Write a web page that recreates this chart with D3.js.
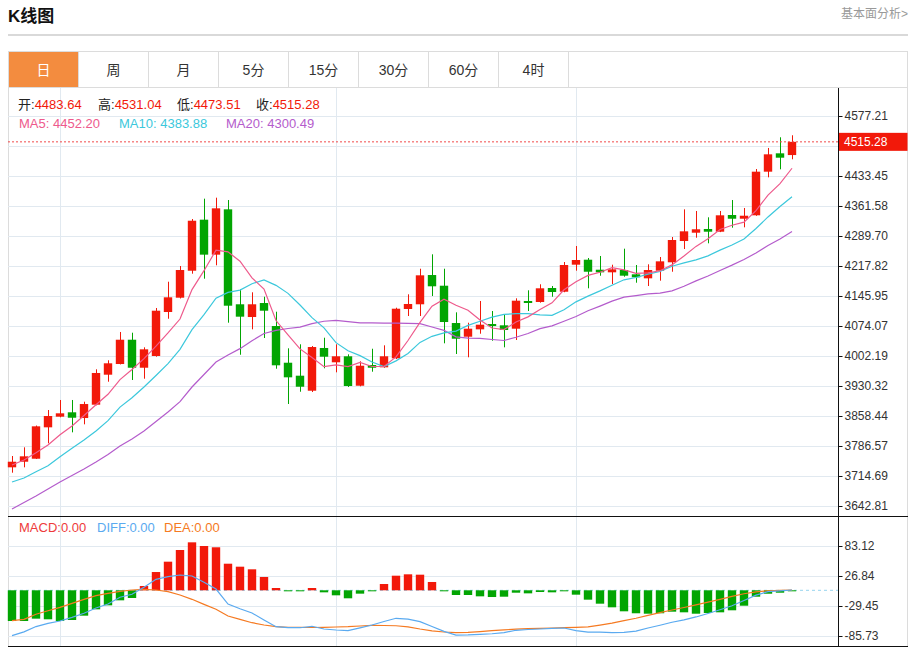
<!DOCTYPE html>
<html>
<head>
<meta charset="utf-8">
<script src="https://cdn.jsdelivr.net/npm/d3@7"></script>
<style>
body{margin:0;background:#fff}
svg{display:block;font-family:Arial,"Liberation Sans","Noto Sans CJK SC",sans-serif}
</style>
</head>
<body>
<svg width="916" height="648"></svg>
<script>
// tabs across the top
const tabs = ['日', '周', '月', '5分', '15分', '30分', '60分', '4时'];

// daily candles
const open  = [3735.5,3748.9,3756.1,3831.3,3856.8,3867.3,3853.6,3885.5,3957.4,3983.0,4041.2,3974.1,4002.2,4107.6,4141.9,4206.5,4328.8,4245.0,4353.6,4126.1,4095.6,4129.1,4074.0,3986.1,3955.0,3919.0,4021.4,3987.1,4001.5,3931.0,3980.6,3975.1,3996.6,4114.8,4126.1,4196.2,4170.6,4081.2,4048.4,4066.1,4078.8,4075.7,4067.6,4134.0,4131.6,4165.1,4156.2,4221.0,4232.9,4208.9,4202.7,4208.2,4197.9,4188.3,4206.5,4226.7,4277.7,4297.6,4306.5,4300.0,4340.0,4331.1,4339.3,4443.8,4487.8,4483.64];
const high  = [3762.6,3783.4,3835.6,3872.8,3896.8,3896.8,3892.7,3970.3,3991.9,4059.7,4058.0,4023.0,4117.2,4180.2,4217.8,4330.4,4379.1,4381.5,4375.9,4162.0,4154.8,4144.2,4108.3,4020.6,4030.2,4026.1,4046.0,4030.2,4006.2,3989.5,4019.6,4027.8,4117.9,4150.0,4211.3,4245.8,4211.3,4106.8,4081.9,4134.0,4110.0,4102.1,4140.4,4159.6,4174.0,4169.9,4227.4,4265.7,4237.0,4241.8,4220.9,4259.3,4220.2,4221.9,4239.4,4287.3,4353.6,4349.6,4334.5,4349.6,4375.9,4356.8,4450.2,4500.6,4526.2,4531.04];
const low   = [3722.6,3735.5,3755.4,3793.0,3855.3,3819.3,3838.5,3884.0,3940.6,3982.0,3944.7,3947.8,4000.5,4091.5,4140.0,4199.4,4187.4,4219.5,4082.0,4005.2,4066.1,4045.3,3971.7,3887.2,3916.6,3915.9,3972.7,3963.1,3928.0,3929.5,3964.6,3974.0,3995.0,4098.0,4098.0,4145.9,4032.6,4007.0,3999.1,4055.6,4038.8,4023.0,4040.5,4110.0,4130.0,4144.2,4155.0,4206.6,4164.4,4194.5,4174.7,4192.2,4177.8,4169.9,4182.6,4204.1,4258.5,4285.6,4272.2,4299.0,4309.6,4310.5,4338.0,4430.3,4449.5,4473.51];
const close = [3748.9,3761.8,3833.7,3858.4,3864.9,3854.3,3887.1,3961.5,3984.7,4041.2,3974.1,4018.2,4110.7,4142.8,4208.2,4326.3,4245.0,4356.0,4122.7,4096.4,4126.1,4110.7,3979.9,3951.1,3928.6,4023.7,4000.5,4001.5,3930.3,3978.9,3974.1,4001.5,4115.5,4126.8,4195.5,4169.2,4083.6,4043.6,4067.6,4077.2,4074.0,4064.5,4134.7,4129.2,4164.4,4155.5,4220.2,4232.2,4204.1,4202.7,4209.9,4194.6,4190.7,4208.2,4229.0,4280.1,4300.9,4305.8,4300.0,4339.3,4331.1,4338.3,4443.8,4485.4,4477.3,4515.28];

// moving-average values at the left edge, before a full window exists
const ma5Head  = [3741.0,3753.0,3770.4,3788.9];
const ma10Head = [3700.3,3709.9,3725.0,3739.4,3761.0,3781.0,3801.0,3822.5,3847.2];
const ma20Head = [3635.6,3651.1,3666.8,3683.5,3700.3,3715.8,3731.4,3748.2,3766.1,3786.5,3803.3,3822.4,3845.2,3868.0,3892.7,3927.9,3957.9,3987.8,4004.6];

// MACD panel
const macd = [-57.6,-57.6,-53.2,-54.4,-57.6,-55.7,-47.6,-35.7,-28.2,-18.8,-14.4,8.1,34.3,53.7,75.6,90.0,83.1,80.7,49.9,44.3,39.4,25.0,4.3,-1.0,-1.0,4.3,-3.8,-9.4,-15.0,-6.3,-0.5,11.8,27.4,30.0,29.3,15.6,-0.5,-8.8,-8.8,-11.3,-12.6,-12.0,-4.5,-5.7,-3.2,-3.8,-0.5,-8.2,-17.6,-25.1,-31.9,-39.4,-43.1,-43.9,-43.1,-40.1,-41.3,-43.9,-42.6,-41.3,-37.5,-28.9,-12.0,-6.4,-4.5,-0.3];
const diff = [-85,-78,-68,-62,-57.6,-50.7,-43.1,-33.2,-25.7,-13.1,-7.5,5.6,20.6,25.5,28.7,26.8,15.0,2.4,-25.7,-34.5,-42.6,-55.7,-68.3,-70.2,-70.2,-67.5,-72.6,-74.5,-75.8,-70.5,-65.1,-58.5,-52.5,-54,-58.9,-68,-77,-83.9,-83.5,-82.5,-81.5,-79.5,-75,-73.5,-72.6,-71.5,-70.7,-75.5,-78.5,-78.5,-79.3,-79,-76.5,-70.7,-65.5,-60,-55.5,-50,-43.5,-36.5,-29,-19,-9,-2.6,-1,0.6];
const dea  = [-57,-54.4,-45.0,-38.3,-31.9,-24.4,-16.9,-10.1,-5.6,-1.9,0.6,1.9,0.6,-2.6,-8.8,-16.9,-26.3,-35.6,-48.2,-54.4,-60.8,-65.1,-68.3,-69.4,-69.4,-69.8,-69.4,-68.8,-68.3,-67,-65.7,-66,-66.5,-68.5,-72.6,-76,-78.2,-79.5,-78.8,-77.5,-75.8,-74.3,-72.8,-72,-71.3,-70.8,-70.2,-69.4,-68.6,-65.2,-61.5,-57,-52.5,-46.9,-42,-37,-32.3,-27.4,-22.2,-17,-11.3,-6.5,-3,-0.8,0,0.6];

const priceTicks = [4577.21,4505.33,4433.45,4361.58,4289.70,4217.82,4145.95,4074.07,4002.19,3930.32,3858.44,3786.57,3714.69,3642.81];
const macdTicks = [83.12,26.84,-29.45,-85.73];
const monthStarts = [4, 27, 47];

const RED = '#f2190a', GREEN = '#02a502';
const C_MA5 = '#ee5a8c', C_MA10 = '#3cc8dc', C_MA20 = '#b45ccc';
const C_DIFF = '#5aaaf0', C_DEA = '#f57a22';

const svg = d3.select('svg');
const left = 8, right = 838, boxRight = 908;
const mainTop = 88, mainBottom = 516, macdBottom = 646;

const idx = d3.range(close.length);
const x = d3.scaleBand().domain(idx).range([6, 6 + 12 * idx.length]).paddingInner(0.3).paddingOuter(0.15);
const cx = i => x(i) + x.bandwidth() / 2;
const y = d3.scaleLinear().domain([3642.81, 4577.21]).range([506, 116]);
const ym = d3.scaleLinear().domain([-85.73, 83.12]).range([636, 546]);

const movingAvg = (n, head) => close.map((c, i) => i < n - 1 ? head[i] : d3.mean(close.slice(i - n + 1, i + 1)));
const ma5 = movingAvg(5, ma5Head), ma10 = movingAvg(10, ma10Head), ma20 = movingAvg(20, ma20Head);

// header
svg.append('text').attr('x', 8).attr('y', 22).attr('font-size', 17).attr('font-weight', 'bold')
  .attr('fill', '#111').text('K线图');
svg.append('text').attr('x', 908).attr('y', 18).attr('text-anchor', 'end').attr('font-size', 12)
  .attr('fill', '#999').text('基本面分析>');
svg.append('line').attr('x1', 8).attr('x2', 908).attr('y1', 35).attr('y2', 35)
  .attr('stroke', '#ccc').attr('stroke-width', 1.5);

// chart box + tabs
svg.append('rect').attr('x', 8.5).attr('y', 51.5).attr('width', 899).attr('height', 595)
  .attr('fill', 'none').attr('stroke', '#dcdcdc');
const tab = svg.append('g').selectAll('g').data(tabs).enter().append('g')
  .attr('transform', (d, i) => `translate(${8.5 + i * 70},51.5)`);
tab.append('rect').attr('width', 70).attr('height', 36)
  .attr('fill', (d, i) => i === 0 ? '#f38c3f' : '#fff').attr('stroke', '#dcdcdc');
tab.append('text').attr('x', 35).attr('y', 23).attr('text-anchor', 'middle').attr('font-size', 14)
  .attr('fill', (d, i) => i === 0 ? '#fff' : '#333').text(d => d);
svg.append('line').attr('x1', 8).attr('x2', 908).attr('y1', 87.5).attr('y2', 87.5).attr('stroke', '#dcdcdc');

// grid
const grid = svg.append('g').attr('stroke', '#e1e9f0').attr('stroke-width', 1);
grid.selectAll('.h').data(priceTicks).enter().append('line')
  .attr('x1', left).attr('x2', right).attr('y1', d => Math.round(y(d)) + 0.5).attr('y2', d => Math.round(y(d)) + 0.5);
grid.selectAll('.hm').data(macdTicks).enter().append('line')
  .attr('x1', left).attr('x2', right).attr('y1', d => Math.round(ym(d)) + 0.5).attr('y2', d => Math.round(ym(d)) + 0.5);
grid.selectAll('.v').data(monthStarts).enter().append('line')
  .attr('x1', d => Math.round(cx(d)) + 0.5).attr('x2', d => Math.round(cx(d)) + 0.5)
  .attr('y1', mainTop).attr('y2', macdBottom);

// candles
const candle = svg.append('g').selectAll('g').data(idx).enter().append('g')
  .attr('fill', i => close[i] >= open[i] ? RED : GREEN)
  .attr('stroke', i => close[i] >= open[i] ? RED : GREEN);
candle.append('line').attr('x1', i => Math.round(cx(i)) + 0.5).attr('x2', i => Math.round(cx(i)) + 0.5)
  .attr('y1', i => y(high[i])).attr('y2', i => y(low[i]));
candle.append('rect').attr('stroke', 'none')
  .attr('x', i => x(i)).attr('width', x.bandwidth())
  .attr('y', i => y(Math.max(open[i], close[i])))
  .attr('height', i => Math.max(1.5, Math.abs(y(open[i]) - y(close[i]))));

// moving averages
const line = d3.line().x((d, i) => cx(i)).y(d => y(d));
[[ma20, C_MA20], [ma10, C_MA10], [ma5, C_MA5]].forEach(([s, c]) => {
  svg.append('path').attr('d', line(s)).attr('fill', 'none').attr('stroke', c).attr('stroke-width', 1.2);
});

// last price
const last = close[close.length - 1];
svg.append('line').attr('x1', left).attr('x2', right).attr('y1', y(last)).attr('y2', y(last))
  .attr('stroke', '#f04a4a').attr('stroke-dasharray', '2,2');

// MACD
svg.append('line').attr('x1', left).attr('x2', right).attr('y1', ym(0)).attr('y2', ym(0))
  .attr('stroke', '#96d4ee').attr('stroke-dasharray', '3,3');
svg.append('g').selectAll('rect').data(idx).enter().append('rect')
  .attr('x', i => x(i)).attr('width', x.bandwidth())
  .attr('y', i => Math.min(ym(0), ym(macd[i])))
  .attr('height', i => Math.max(1, Math.abs(ym(macd[i]) - ym(0))))
  .attr('fill', i => macd[i] >= 0 ? RED : GREEN);
const mline = d3.line().x((d, i) => cx(i)).y(d => ym(d));
svg.append('path').attr('d', mline(dea)).attr('fill', 'none').attr('stroke', C_DEA).attr('stroke-width', 1.2);
svg.append('path').attr('d', mline(diff)).attr('fill', 'none').attr('stroke', C_DIFF).attr('stroke-width', 1.2);

// frame lines
svg.append('line').attr('x1', 8).attr('x2', 908).attr('y1', mainBottom + 0.5).attr('y2', mainBottom + 0.5).attr('stroke', '#111');
svg.append('line').attr('x1', 8).attr('x2', 908).attr('y1', macdBottom + 0.5).attr('y2', macdBottom + 0.5).attr('stroke', '#111');
svg.append('line').attr('x1', right + 0.5).attr('x2', right + 0.5).attr('y1', mainTop).attr('y2', macdBottom).attr('stroke', '#111');

// axes
const styleAxis = g => {
  g.select('.domain').remove();
  g.selectAll('.tick line').attr('stroke', '#111');
  g.selectAll('.tick text').attr('fill', '#333').attr('font-size', 12).attr('font-family', null).attr('x', 6);
};
svg.append('g').attr('transform', `translate(${right + 0.5},0)`)
  .call(d3.axisRight(y).tickValues(priceTicks).tickSize(4).tickFormat(d => d === 4505.33 ? '' : d.toFixed(2)))
  .call(styleAxis);
svg.append('g').attr('transform', `translate(${right + 0.5},0)`)
  .call(d3.axisRight(ym).tickValues(macdTicks).tickSize(4).tickFormat(d => d.toFixed(2)))
  .call(styleAxis);

svg.append('rect').attr('x', right + 1).attr('y', y(last) - 9).attr('width', boxRight - right - 1.5).attr('height', 18).attr('fill', RED);
svg.append('text').attr('x', right + 6).attr('y', y(last) + 4.5).attr('font-size', 12).attr('fill', '#fff').text(last.toFixed(2));

// legends
const legend = (items, ty) => items.forEach(([lx, label, val, lc, vc]) => {
  const t = svg.append('text').attr('x', lx).attr('y', ty).attr('font-size', 13);
  t.append('tspan').attr('fill', lc).text(label);
  t.append('tspan').attr('fill', vc).text(val);
});
const last4 = [open, high, low, close].map(a => a[a.length - 1].toFixed(2));
legend([[18, '开:', last4[0], '#222', RED], [98, '高:', last4[1], '#222', RED],
        [177, '低:', last4[2], '#222', RED], [256, '收:', last4[3], '#222', RED]], 109);
legend([[19, 'MA5: ', '4452.20', C_MA5, C_MA5], [119, 'MA10: ', '4383.88', C_MA10, C_MA10],
        [226, 'MA20: ', '4300.49', C_MA20, C_MA20]], 128);
legend([[19, 'MACD:', '0.00', '#ee3b3b', '#ee3b3b'], [97, 'DIFF:', '0.00', C_DIFF, C_DIFF],
        [164, 'DEA:', '0.00', C_DEA, C_DEA]], 532);
</script>
</body>
</html>
